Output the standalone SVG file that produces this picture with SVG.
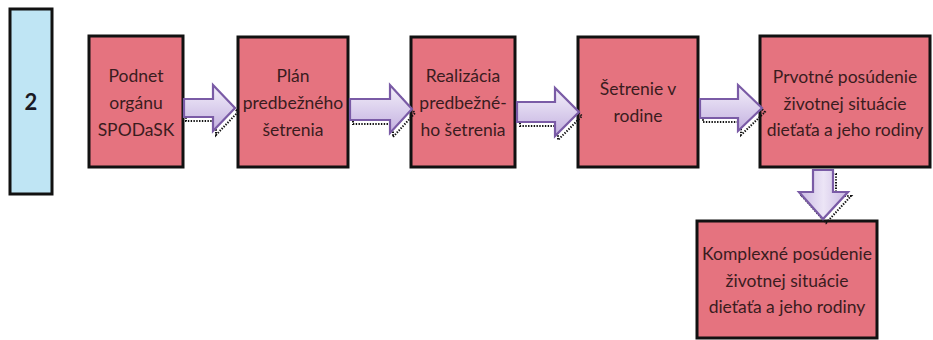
<svg xmlns="http://www.w3.org/2000/svg" width="933" height="340" viewBox="0 0 933 340">
  <defs>
    <linearGradient id="arrowFill" x1="0" y1="0" x2="0" y2="1">
      <stop offset="0" stop-color="#f4f0fa"/>
      <stop offset="0.55" stop-color="#d9cdec"/>
      <stop offset="1" stop-color="#c3b0df"/>
    </linearGradient>
    <linearGradient id="arrowFillDown" x1="0" y1="0" x2="1" y2="0">
      <stop offset="0" stop-color="#c9b8e2"/>
      <stop offset="0.5" stop-color="#ece5f6"/>
      <stop offset="1" stop-color="#c9b8e2"/>
    </linearGradient>
    <style>
      .step { fill: #e5737f; stroke: #111; stroke-width: 3; }
      .stage { fill: #bfe5f4; stroke: #111; stroke-width: 3; }
      .label { font-family: Lato, "Liberation Sans", sans-serif; font-size: 17.5px; fill: #3a1c1e; text-anchor: middle; }
      .num { font-family: Lato, "Liberation Sans", sans-serif; font-size: 22px; font-weight: bold; fill: #1a1a24; text-anchor: middle; }
      .arrow { fill: url(#arrowFill); stroke: #7a5ba6; stroke-width: 2.2; stroke-linejoin: miter; }
      .arrow-down { fill: url(#arrowFillDown); stroke: #7a5ba6; stroke-width: 2.2; }
      .shadow { fill: none; stroke: #111; stroke-width: 2; stroke-dasharray: 1.4 1.4; }
    </style>
  </defs>

  <rect width="933" height="340" fill="#ffffff"/>

  <!-- stage marker -->
  <g id="stage-2">
    <rect class="stage" x="10" y="9" width="42" height="185"/>
    <text class="num" x="31" y="110">2</text>
  </g>

  <!-- process steps -->
  <g id="podnet">
    <rect class="step" x="89" y="36" width="94" height="131"/>
    <text class="label" x="136" y="82">Podnet</text>
    <text class="label" x="136" y="109">orgánu</text>
    <text class="label" x="136" y="136">SPODaSK</text>
  </g>

  <g id="plan">
    <rect class="step" x="238" y="37" width="110" height="130"/>
    <text class="label" x="293" y="82">Plán</text>
    <text class="label" x="293" y="109">predbežného</text>
    <text class="label" x="293" y="136">šetrenia</text>
  </g>

  <g id="realizacia">
    <rect class="step" x="411" y="37" width="104" height="130"/>
    <text class="label" x="463" y="82">Realizácia</text>
    <text class="label" x="463" y="109">predbežné-</text>
    <text class="label" x="463" y="136">ho šetrenia</text>
  </g>

  <g id="setrenie">
    <rect class="step" x="578" y="37" width="120" height="130"/>
    <text class="label" x="638" y="95">Šetrenie v</text>
    <text class="label" x="638" y="122">rodine</text>
  </g>

  <g id="prvotne">
    <rect class="step" x="760" y="36" width="170" height="131"/>
    <text class="label" x="845" y="83">Prvotné posúdenie</text>
    <text class="label" x="845" y="110">životnej situácie</text>
    <text class="label" x="845" y="136">dieťaťa a jeho rodiny</text>
  </g>

  <g id="komplexne">
    <rect class="step" x="697" y="221" width="180" height="117"/>
    <text class="label" x="787" y="260">Komplexné posúdenie</text>
    <text class="label" x="787" y="287">životnej situácie</text>
    <text class="label" x="787" y="313">dieťaťa a jeho rodiny</text>
  </g>

  <!-- block arrows between steps -->
  <g id="connectors">
    <path class="shadow" d="M186,103 H216 V89 L238,112 L216,135 V121 H186 Z"/>
    <path class="arrow" d="M184,99 H213 V85 L235,108 L213,131 V117 H184 Z"/>

    <path class="shadow" d="M353,103 H393 V89 L415,113 L393,137 V124 H353 Z"/>
    <path class="arrow" d="M350,99 H390 V85 L412,109 L390,133 V120 H350 Z"/>

    <path class="shadow" d="M520,106 H558 V92 L582,116 L558,140 V126 H520 Z"/>
    <path class="arrow" d="M517,102 H555 V88 L579,112 L555,136 V122 H517 Z"/>

    <path class="shadow" d="M703,103 H741 V89 L765,112 L741,135 V122 H703 Z"/>
    <path class="arrow" d="M700,99 H738 V85 L762,108 L738,131 V118 H700 Z"/>

    <path class="shadow" d="M816,174 H836 V196 H851 L826,223 L802,196 H816 Z"/>
    <path class="arrow-down" d="M813,170 H833 V192 H848 L823,219 L799,192 H813 Z"/>
  </g>
</svg>
